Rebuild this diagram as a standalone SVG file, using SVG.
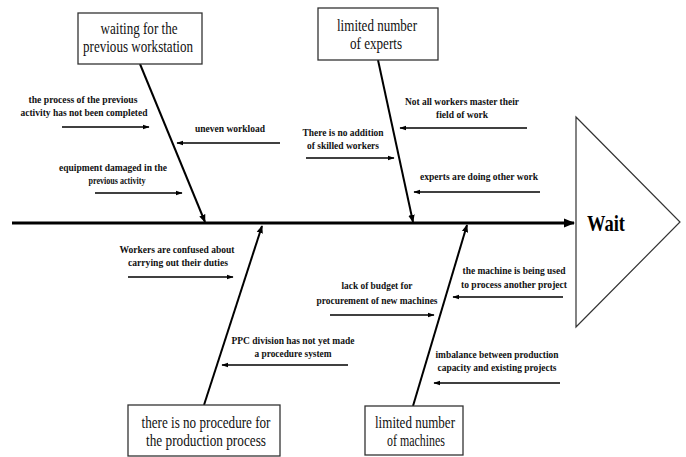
<svg xmlns="http://www.w3.org/2000/svg" width="686" height="457" viewBox="0 0 686 457">
<defs>
<marker id="ah" viewBox="0 0 10 10" refX="9" refY="5" markerWidth="4" markerHeight="4" orient="auto" markerUnits="strokeWidth">
<path d="M0,1 L10,5 L0,9 z" fill="#000"/>
</marker>
<marker id="ahs" viewBox="0 0 10 10" refX="9" refY="5" markerWidth="5" markerHeight="5" orient="auto" markerUnits="strokeWidth">
<path d="M0,1.5 L10,5 L0,8.5 z" fill="#000"/>
</marker>
</defs>
<style>
.box{fill:#fff;stroke:#333;stroke-width:1.3}
.bt{font-family:"Liberation Serif","DejaVu Serif",serif;font-size:17px;fill:#111;text-anchor:middle}
.lt{font-family:"Liberation Serif","DejaVu Serif",serif;font-size:11px;font-weight:bold;fill:#111;text-anchor:middle}
.spine{stroke:#000;stroke-width:2.8;fill:none}
.br{stroke:#000;stroke-width:2;fill:none}
.sm{stroke:#000;stroke-width:1.4;fill:none}
</style>
<rect width="686" height="457" fill="#fff"/>

<g id="effect">
<polygon points="576,117 680,222 576,327" fill="#fff" stroke="#333" stroke-width="1.2"/>
<text x="606" y="231" font-family="Liberation Serif, DejaVu Serif, serif" font-size="23" font-weight="bold" text-anchor="middle" textLength="38" lengthAdjust="spacingAndGlyphs">Wait</text>
</g>

<g id="connectors">
<line class="spine" x1="12" y1="223" x2="574" y2="223" marker-end="url(#ah)"/>
<line class="br" x1="140" y1="64" x2="205" y2="222" marker-end="url(#ah)"/>
<line class="br" x1="378" y1="60" x2="413" y2="222" marker-end="url(#ah)"/>
<line class="br" x1="204" y1="405" x2="262" y2="226" marker-end="url(#ah)"/>
<line class="br" x1="413" y1="406" x2="467" y2="225" marker-end="url(#ah)"/>

<line class="sm" x1="62" y1="127" x2="149" y2="127" marker-end="url(#ahs)"/>
<line class="sm" x1="280" y1="143" x2="177" y2="143" marker-end="url(#ahs)"/>
<line class="sm" x1="95" y1="193" x2="182" y2="193" marker-end="url(#ahs)"/>
<line class="sm" x1="527" y1="128" x2="400" y2="128" marker-end="url(#ahs)"/>
<line class="sm" x1="306" y1="158" x2="394" y2="158" marker-end="url(#ahs)"/>
<line class="sm" x1="540" y1="192" x2="414" y2="192" marker-end="url(#ahs)"/>
<line class="sm" x1="128" y1="277" x2="233" y2="277" marker-end="url(#ahs)"/>
<line class="sm" x1="348" y1="365" x2="222" y2="365" marker-end="url(#ahs)"/>
<line class="sm" x1="330" y1="315" x2="434" y2="315" marker-end="url(#ahs)"/>
<line class="sm" x1="563" y1="297" x2="453" y2="297" marker-end="url(#ahs)"/>
<line class="sm" x1="560" y1="383" x2="434" y2="383" marker-end="url(#ahs)"/>
</g>

<g id="cause-previous-workstation">
<rect class="box" x="78" y="13" width="124" height="51"/>
<text class="bt" x="139" y="34" textLength="77" lengthAdjust="spacingAndGlyphs">waiting for the</text>
<text class="bt" x="138" y="52" textLength="110" lengthAdjust="spacingAndGlyphs">previous workstation</text>
</g>

<g id="cause-experts">
<rect class="box" x="318" y="8" width="120" height="52"/>
<text class="bt" x="377" y="31" textLength="80" lengthAdjust="spacingAndGlyphs">limited number</text>
<text class="bt" x="376" y="49" textLength="52" lengthAdjust="spacingAndGlyphs">of experts</text>
</g>

<g id="cause-procedure">
<rect class="box" x="128" y="405" width="152" height="51"/>
<text class="bt" x="206" y="428" textLength="129" lengthAdjust="spacingAndGlyphs">there is no procedure for</text>
<text class="bt" x="206" y="446" textLength="120" lengthAdjust="spacingAndGlyphs">the production process</text>
</g>

<g id="cause-machines">
<rect class="box" x="365" y="406" width="98" height="49"/>
<text class="bt" x="415" y="428" textLength="80" lengthAdjust="spacingAndGlyphs">limited number</text>
<text class="bt" x="416" y="446" textLength="58" lengthAdjust="spacingAndGlyphs">of machines</text>
</g>

<g id="sub-process-not-completed">
<text class="lt" x="83" y="103" textLength="109" lengthAdjust="spacingAndGlyphs">the process of the previous</text>
<text class="lt" x="84" y="116" textLength="127" lengthAdjust="spacingAndGlyphs">activity has not been completed</text>
</g>
<g id="sub-uneven-workload">
<text class="lt" x="230" y="132" textLength="70" lengthAdjust="spacingAndGlyphs">uneven workload</text>
</g>
<g id="sub-equipment-damaged">
<text class="lt" x="113" y="171" textLength="108" lengthAdjust="spacingAndGlyphs">equipment damaged in the</text>
<text class="lt" x="117" y="184" textLength="57" lengthAdjust="spacingAndGlyphs">previous activity</text>
</g>
<g id="sub-not-all-master">
<text class="lt" x="462" y="105" textLength="114" lengthAdjust="spacingAndGlyphs">Not all workers master their</text>
<text class="lt" x="462" y="118" textLength="52" lengthAdjust="spacingAndGlyphs">field of work</text>
</g>
<g id="sub-no-addition">
<text class="lt" x="343" y="136" textLength="81" lengthAdjust="spacingAndGlyphs">There is no addition</text>
<text class="lt" x="343" y="149" textLength="72" lengthAdjust="spacingAndGlyphs">of skilled workers</text>
</g>
<g id="sub-experts-other-work">
<text class="lt" x="479" y="180" textLength="118" lengthAdjust="spacingAndGlyphs">experts are doing other work</text>
</g>
<g id="sub-workers-confused">
<text class="lt" x="177" y="253" textLength="115" lengthAdjust="spacingAndGlyphs">Workers are confused about</text>
<text class="lt" x="178" y="266" textLength="100" lengthAdjust="spacingAndGlyphs">carrying out their duties</text>
</g>
<g id="sub-ppc-division">
<text class="lt" x="293" y="344" textLength="123" lengthAdjust="spacingAndGlyphs">PPC division has not yet made</text>
<text class="lt" x="293" y="357" textLength="77" lengthAdjust="spacingAndGlyphs">a procedure system</text>
</g>
<g id="sub-lack-budget">
<text class="lt" x="377" y="289" textLength="71" lengthAdjust="spacingAndGlyphs">lack of budget for</text>
<text class="lt" x="377" y="304" textLength="121" lengthAdjust="spacingAndGlyphs">procurement of new machines</text>
</g>
<g id="sub-machine-used">
<text class="lt" x="514" y="274" textLength="103" lengthAdjust="spacingAndGlyphs">the machine is being used</text>
<text class="lt" x="514" y="288" textLength="106" lengthAdjust="spacingAndGlyphs">to process another project</text>
</g>
<g id="sub-imbalance">
<text class="lt" x="497" y="358" textLength="123" lengthAdjust="spacingAndGlyphs">imbalance between production</text>
<text class="lt" x="497" y="371" textLength="119" lengthAdjust="spacingAndGlyphs">capacity and existing projects</text>
</g>
</svg>
